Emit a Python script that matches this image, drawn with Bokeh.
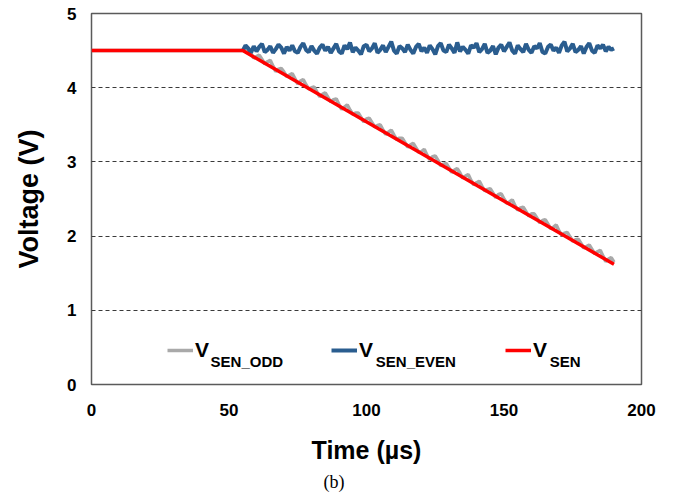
from bokeh.plotting import figure
from bokeh.models import Legend, LegendItem, Label, Title, FixedTicker
from bokeh.embed import file_html
from bokeh.resources import INLINE

# ---------------- data ----------------
x_ticks = [0, 50, 100, 150, 200]
y_ticks = [0, 1, 2, 3, 4, 5]
grid_levels = [1, 2, 3, 4]

# V_SEN (red): flat, then linear ramp down
sen_t = [0, 55, 190]
sen_v = [4.50, 4.50, 1.62]

# V_SEN_ODD (gray): flat to 55 us, then noisy ramp (1 us steps 55..190)
odd_t = [0] + list(range(55, 191))
odd_v = [4.50,
         4.50, 4.50, 4.52, 4.46, 4.40, 4.42, 4.44, 4.38, 4.32, 4.35,
         4.37, 4.29, 4.22, 4.25, 4.26, 4.21, 4.15, 4.17, 4.19, 4.12,
         4.05, 4.09, 4.11, 4.04, 3.98, 4.00, 4.01, 3.94, 3.88, 3.91,
         3.93, 3.87, 3.81, 3.84, 3.85, 3.77, 3.71, 3.74, 3.77, 3.70,
         3.64, 3.66, 3.66, 3.60, 3.54, 3.58, 3.59, 3.53, 3.47, 3.49,
         3.50, 3.43, 3.37, 3.40, 3.43, 3.36, 3.30, 3.32, 3.32, 3.26,
         3.20, 3.23, 3.25, 3.19, 3.13, 3.14, 3.17, 3.09, 3.03, 3.07,
         3.08, 3.02, 2.95, 2.97, 2.98, 2.92, 2.86, 2.89, 2.91, 2.85,
         2.78, 2.81, 2.83, 2.75, 2.69, 2.72, 2.74, 2.67, 2.61, 2.63,
         2.64, 2.58, 2.52, 2.56, 2.57, 2.50, 2.44, 2.46, 2.49, 2.41,
         2.35, 2.38, 2.39, 2.33, 2.27, 2.30, 2.30, 2.24, 2.18, 2.21,
         2.22, 2.16, 2.10, 2.12, 2.15, 2.07, 2.01, 2.04, 2.05, 1.99,
         1.93, 1.95, 1.96, 1.90, 1.84, 1.86, 1.88, 1.82, 1.76, 1.79,
         1.81, 1.73, 1.66, 1.69, 1.71, 1.65]

# V_SEN_EVEN (blue): noisy around 4.52 V from 55 to 190 us
even_t = list(range(55, 191))
even_v = [4.50, 4.57, 4.53, 4.47, 4.56, 4.49, 4.55, 4.59, 4.48, 4.51,
          4.56, 4.47, 4.52, 4.58, 4.54, 4.46, 4.55, 4.50, 4.57, 4.49,
          4.47, 4.55, 4.60, 4.51, 4.48, 4.56, 4.50, 4.46, 4.54, 4.58,
          4.50, 4.55, 4.47, 4.53, 4.59, 4.49, 4.46, 4.57, 4.52, 4.61,
          4.48, 4.54, 4.50, 4.45, 4.56, 4.58, 4.49, 4.53, 4.60, 4.47,
          4.51, 4.57, 4.48, 4.55, 4.62, 4.50, 4.46, 4.56, 4.53, 4.48,
          4.58, 4.51, 4.46, 4.55, 4.59, 4.49, 4.54, 4.47, 4.57, 4.52,
          4.45, 4.56, 4.60, 4.50, 4.48, 4.58, 4.53, 4.47, 4.61, 4.49,
          4.55, 4.51, 4.46, 4.57, 4.54, 4.60, 4.48, 4.52, 4.59, 4.47,
          4.50, 4.56, 4.45, 4.54, 4.58, 4.49, 4.55, 4.61, 4.50, 4.46,
          4.57, 4.52, 4.48, 4.59, 4.51, 4.47, 4.56, 4.53, 4.60, 4.48,
          4.46, 4.55, 4.58, 4.50, 4.54, 4.47, 4.57, 4.62, 4.49, 4.53,
          4.59, 4.48, 4.51, 4.56, 4.46, 4.55, 4.60, 4.50, 4.47, 4.57,
          4.53, 4.58, 4.49, 4.55, 4.51, 4.53]

FONT = "Liberation Sans"

p = figure(width=673, height=496, x_range=(0, 200), y_range=(0, 5),
           output_backend="svg", toolbar_location=None,
           min_border_left=91, min_border_right=32, min_border_top=13,
           min_border_bottom=112)
p.background_fill_color = "white"
p.border_fill_color = "white"
p.outline_line_color = "#5a5a5a"
p.outline_line_width = 1.5

p.xaxis.ticker = FixedTicker(ticks=x_ticks)
p.yaxis.ticker = FixedTicker(ticks=y_ticks)
for ax in (p.xaxis[0], p.yaxis[0]):
    ax.axis_line_color = None
    ax.major_tick_line_color = None
    ax.minor_tick_line_color = None
    ax.major_tick_out = 0
    ax.major_tick_in = 0
    ax.minor_tick_out = 0
    ax.major_label_text_font = FONT
    ax.major_label_text_font_style = "bold"
    ax.major_label_text_font_size = "17px"
    ax.major_label_text_color = "black"
    ax.axis_label_text_font = FONT
    ax.axis_label_text_font_style = "bold"
    ax.axis_label_text_color = "black"
p.xaxis.major_label_standoff = 19
p.yaxis.major_label_standoff = 15

p.yaxis.axis_label = "Voltage (V)"
p.yaxis.axis_label_text_font_size = "27px"
p.yaxis.axis_label_standoff = 20

p.xaxis.axis_label = "Time (µs)"
p.xaxis.axis_label_text_font_size = "25px"
p.xaxis.axis_label_standoff = 17

p.xgrid.visible = False
p.ygrid.ticker = FixedTicker(ticks=grid_levels)
p.ygrid.grid_line_color = "#3a3a3a"
p.ygrid.grid_line_dash = "4 3"
p.ygrid.grid_line_width = 1

r_odd = p.line(odd_t, odd_v, line_color="#a9a9a9", line_width=3.5)
r_even = p.line(even_t, even_v, line_color="#2a5d8f", line_width=4)
r_sen = p.line(sen_t, sen_v, line_color="#ff0000", line_width=3.5)

def add_legend(renderer, x):
    lg = Legend(items=[LegendItem(label="V", renderers=[renderer])],
                location=(x, 22), orientation="horizontal",
                border_line_color=None, background_fill_alpha=0,
                padding=0, margin=0, spacing=0,
                glyph_width=26, glyph_height=20, label_height=20,
                label_standoff=2, label_text_font=FONT,
                label_text_font_style="bold", label_text_font_size="21px",
                label_text_color="black")
    p.add_layout(lg)

add_legend(r_odd, 76)
add_legend(r_even, 240)
add_legend(r_sen, 414)

for xs, txt in ((43.3, "SEN_ODD"), (103.4, "SEN_EVEN"), (166.6, "SEN")):
    p.add_layout(Label(x=xs, y=0.31, text=txt, text_font=FONT,
                       text_font_style="bold", text_font_size="15px",
                       text_baseline="alphabetic", text_color="black"))

t_b = Title(text="(b)", align="left", offset=232, standoff=7,
            text_font="Liberation Serif", text_font_style="normal",
            text_font_size="18px", text_color="black")
p.add_layout(t_b, "below")

open("out.html", "w").write(file_html(p, INLINE))
